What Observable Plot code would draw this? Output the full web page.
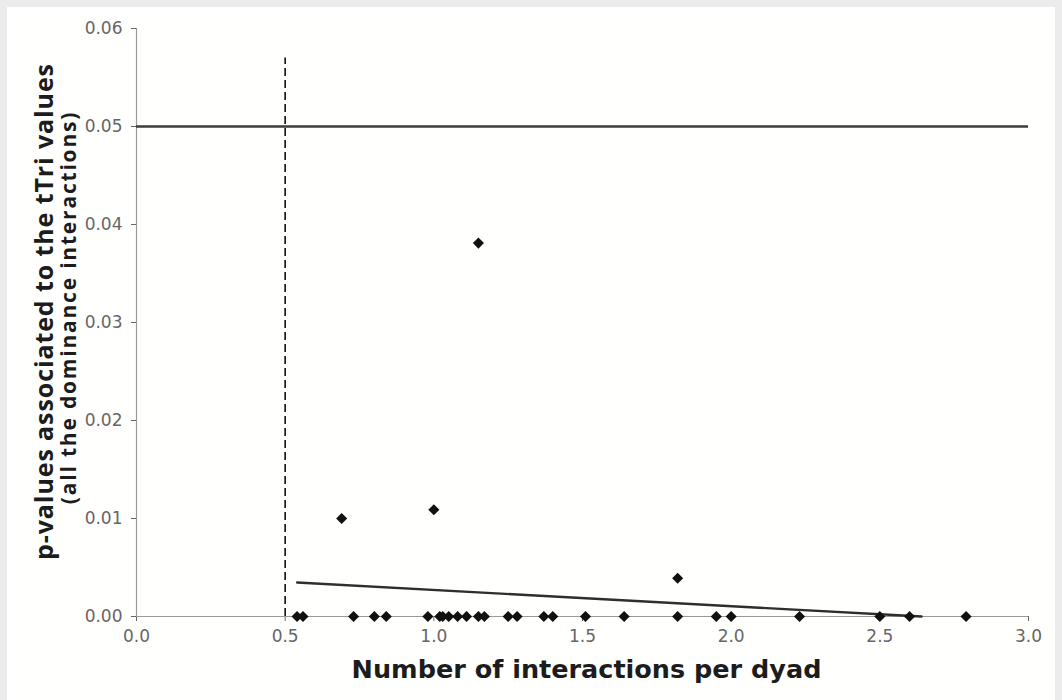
<!DOCTYPE html>
<html>
<head>
<meta charset="utf-8">
<script src="https://cdn.jsdelivr.net/npm/d3@7"></script>
<script src="https://cdn.jsdelivr.net/npm/@observablehq/plot@0.6"></script>
<style>
  html, body { margin: 0; padding: 0; background: #ececec; }
  #panel { position: absolute; left: 7px; top: 7px; width: 1048px; height: 693px; background: #fffffd; }
  #panel svg { display: block; }
</style>
</head>
<body>
<div id="panel"></div>
<script>
// Number of interactions per dyad, one entry per group
const interactions = [
  0.54, 0.56, 0.73, 0.80, 0.84, 0.98, 1.02, 1.03, 1.05, 1.08,
  1.11, 1.15, 1.17, 1.25, 1.28, 1.37, 1.40, 1.51, 1.64, 1.82,
  1.95, 2.00, 2.23, 2.50, 2.60, 2.79,
  0.69, 1.00, 1.15, 1.82
];
// p-values of the tTri statistic for the same groups
const pValues = [
  0, 0, 0, 0, 0, 0, 0, 0, 0, 0,
  0, 0, 0, 0, 0, 0, 0, 0, 0, 0,
  0, 0, 0, 0, 0, 0,
  0.0100, 0.0109, 0.0381, 0.0039
];
const significance = [0.05];     // alpha level
const minInteractions = [0.5];   // minimum sampling effort
const xTicks = [0, 0.5, 1.0, 1.5, 2.0, 2.5, 3.0];
const yTicks = [0, 0.01, 0.02, 0.03, 0.04, 0.05, 0.06];
const yTitle = "p-values associated to the tTri values";
const ySubtitle = "(all the dominance interactions)";
const xTitle = "Number of interactions per dyad";

const points = interactions.map((x, i) => ({x, p: pValues[i]}));

// Least-squares trend of p-value on interactions, drawn until it meets zero
const mx = d3.mean(points, d => d.x);
const my = d3.mean(points, d => d.p);
const sxy = d3.sum(points, d => (d.x - mx) * (d.p - my));
const sxx = d3.sum(points, d => (d.x - mx) ** 2);
const slope = sxy / sxx;
const intercept = my - slope * mx;
const xStart = d3.min(interactions);
const xEnd = Math.min(d3.max(interactions), -intercept / slope);
const trend = [xStart, xEnd].map(x => ({x, p: intercept + slope * x}));

const chart = Plot.plot({
  width: 1048,
  height: 693,
  marginLeft: 129,
  marginTop: 21,
  marginRight: 27,
  marginBottom: 84,
  style: { fontFamily: "'DejaVu Sans', Verdana, sans-serif", fontSize: "17px", color: "#666", background: "transparent" },
  x: { domain: [0, 3], ticks: xTicks, tickFormat: d3.format(".1f"), tickSize: 5, tickPadding: 8, label: null },
  y: { domain: [0, 0.06], ticks: yTicks, tickFormat: d3.format(".2f"), tickSize: 5, tickPadding: 9, label: null },
  marks: [
    Plot.ruleX([0], { stroke: "#9a9a9a", strokeWidth: 1.2 }),
    Plot.ruleY([0], { stroke: "#9a9a9a", strokeWidth: 1.2 }),
    Plot.ruleY(significance, { x1: 0, x2: 3, stroke: "#3c3c3c", strokeWidth: 2.6 }),
    Plot.ruleX(minInteractions, { y1: 0, y2: 0.057, stroke: "#111", strokeWidth: 1.6, strokeDasharray: "8,4" }),
    Plot.line(trend, { x: "x", y: "p", stroke: "#2e2e2e", strokeWidth: 2.4 }),
    Plot.dot(points, { x: "x", y: "p", symbol: "diamond2", r: 5, fill: "#111", stroke: "none" }),
    Plot.text([xTitle], {
      frameAnchor: "bottom", lineAnchor: "middle", dy: 53, dx: 4,
      fontFamily: "'DejaVu Sans', Verdana, sans-serif", fontSize: 25.5, fontWeight: "bold", fill: "#1c1c1c"
    }),
    Plot.text([yTitle], {
      frameAnchor: "left", lineAnchor: "middle", textAnchor: "middle", rotate: -90, dx: -92, dy: -11,
      fontFamily: "'Open Sans', sans-serif", fontSize: 25, fontWeight: "bold", fill: "#1c1c1c"
    }),
    Plot.text([ySubtitle], {
      frameAnchor: "left", lineAnchor: "middle", textAnchor: "middle", rotate: -90, dx: -67, dy: -15,
      fontFamily: "'Open Sans', sans-serif", fontSize: 21, fontWeight: "bold", fill: "#1c1c1c"
    })
  ]
});

// Spread out the rotated axis titles
d3.select(chart).selectAll("text")
  .filter(function () { return this.textContent === yTitle; })
  .style("letter-spacing", "0.9px");
d3.select(chart).selectAll("text")
  .filter(function () { return this.textContent === ySubtitle; })
  .style("letter-spacing", "1.8px");

document.getElementById("panel").appendChild(chart);
</script>
</body>
</html>
